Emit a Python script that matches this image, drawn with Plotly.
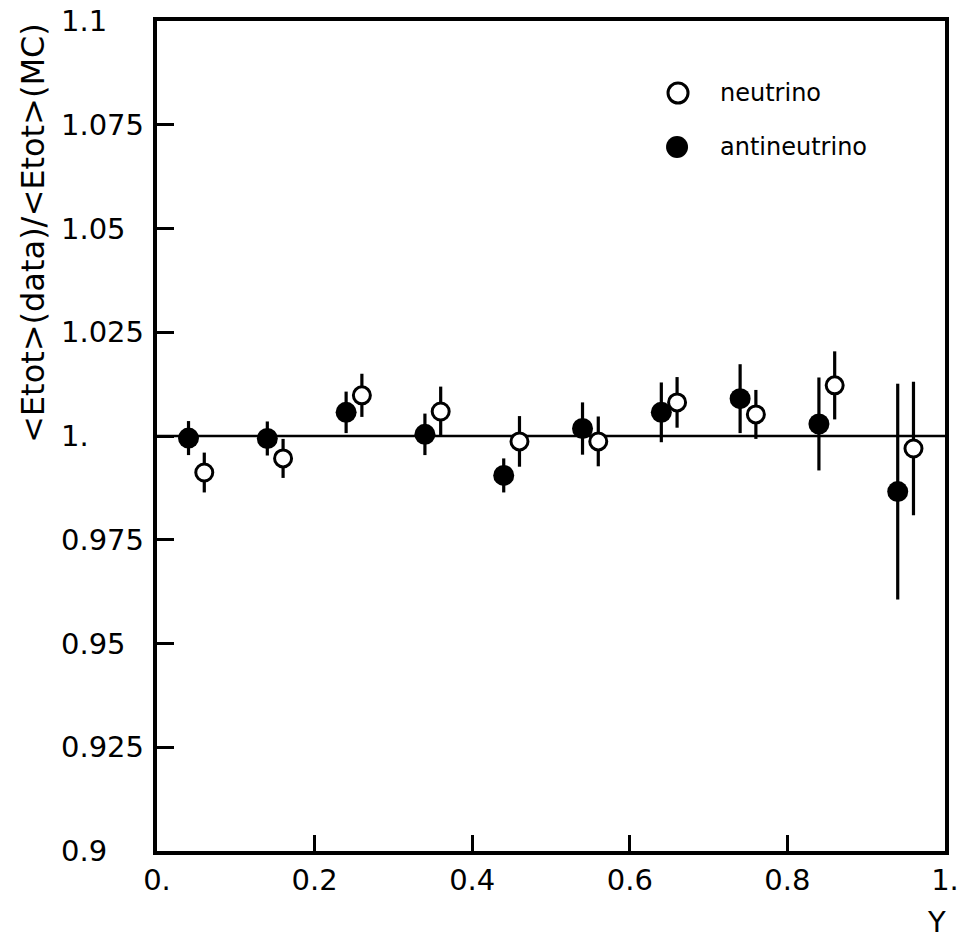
import plotly.graph_objects as go

# ---- data ----
anti_x = [0.04, 0.14, 0.24, 0.34, 0.44, 0.54, 0.64, 0.74, 0.84, 0.94]
anti_y = [0.9995, 0.9994, 1.0057, 1.0004, 0.9905, 1.0018, 1.0057, 1.0090, 1.0029, 0.9866]
anti_err = [0.0041, 0.0041, 0.0050, 0.0050, 0.0041, 0.0063, 0.0072, 0.0083, 0.0112, 0.0260]

neu_x = [0.06, 0.16, 0.26, 0.36, 0.46, 0.56, 0.66, 0.76, 0.86, 0.96]
neu_y = [0.9912, 0.9946, 1.0098, 1.0059, 0.9987, 0.9987, 1.0081, 1.0052, 1.0122, 0.9970]
neu_err = [0.0048, 0.0047, 0.0052, 0.0060, 0.0061, 0.0060, 0.0061, 0.0059, 0.0082, 0.0161]

x_tickvals = [0.0, 0.2, 0.4, 0.6, 0.8, 1.0]
x_ticktext = ["0.", "0.2", "0.4", "0.6", "0.8", "1."]
y_tickvals = [1.1, 1.075, 1.05, 1.025, 1.0, 0.975, 0.95, 0.925, 0.9]
y_ticktext = ["1.1", "1.075", "1.05", "1.025", "1.", "0.975", "0.95", "0.925", "0.9"]

reference_level = 1.0
legend_labels = ["neutrino", "antineutrino"]

FONT = "DejaVu Sans"
W, H = 971, 939
ML, MR, MT, MB = 157, 20, 21, 88
PW, PH = W - ML - MR, H - MT - MB


def px_x(p):
    return (p - ML) / PW


def px_y(p):
    return (H - MB - p) / PH


fig = go.Figure()

fig.add_trace(go.Scatter(
    x=anti_x, y=anti_y, mode="markers", name=legend_labels[1], showlegend=False,
    error_y=dict(type="data", array=anti_err, visible=True, color="black", thickness=3.2, width=0),
    marker=dict(symbol="circle", size=21, color="black", line=dict(width=0)),
))
fig.add_trace(go.Scatter(
    x=neu_x, y=neu_y, mode="markers", name=legend_labels[0], showlegend=False,
    error_y=dict(type="data", array=neu_err, visible=True, color="black", thickness=3.2, width=0),
    marker=dict(symbol="circle", size=17, color="white", line=dict(width=3, color="black")),
))

# reference line at 1
fig.add_shape(type="line", xref="paper", yref="y", x0=0, x1=1, y0=reference_level, y1=reference_level,
              line=dict(color="black", width=2.5), layer="below")

# y tick labels (left aligned, as in the reference)
for v, t in zip(y_tickvals, y_ticktext):
    fig.add_annotation(x=px_x(58), xref="paper", y=v, yref="y", text=t, showarrow=False,
                       xanchor="left", yanchor="middle", font=dict(family=FONT, size=29, color="black"))

# y axis title
fig.add_annotation(x=px_x(32), xref="paper", y=px_y(233), yref="paper",
                   text="&lt;Etot&gt;(data)/&lt;Etot&gt;(MC)", textangle=-90, showarrow=False,
                   xanchor="center", yanchor="middle", font=dict(family=FONT, size=32, color="black"))

# x axis title
fig.add_annotation(x=px_x(942), xref="paper", y=px_y(922), yref="paper", text="Y", showarrow=False,
                   xanchor="center", yanchor="middle", font=dict(family=FONT, size=29, color="black"))

# legend
fig.add_shape(type="circle", xref="paper", yref="paper", xsizemode="pixel", ysizemode="pixel",
              xanchor=px_x(682), yanchor=px_y(93), x0=-10, x1=10, y0=-10, y1=10,
              line=dict(color="black", width=3), fillcolor="white")
fig.add_shape(type="circle", xref="paper", yref="paper", xsizemode="pixel", ysizemode="pixel",
              xanchor=px_x(681), yanchor=px_y(147), x0=-11, x1=11, y0=-11, y1=11,
              line=dict(color="black", width=0), fillcolor="black")
fig.add_annotation(x=px_x(722), xref="paper", y=px_y(93), yref="paper", text=legend_labels[0],
                   showarrow=False, xanchor="left", yanchor="middle",
                   font=dict(family=FONT, size=24, color="black"))
fig.add_annotation(x=px_x(722), xref="paper", y=px_y(147), yref="paper", text=legend_labels[1],
                   showarrow=False, xanchor="left", yanchor="middle",
                   font=dict(family=FONT, size=24, color="black"))

fig.update_layout(
    width=W, height=H,
    margin=dict(l=ML, r=MR, t=MT, b=MB, pad=0),
    paper_bgcolor="white", plot_bgcolor="white",
    showlegend=False,
    font=dict(family=FONT, color="black"),
    xaxis=dict(range=[0, 1], tickvals=x_tickvals, ticktext=x_ticktext, ticks="inside", ticklen=16,
               tickwidth=2.5, tickcolor="black", showline=True, linecolor="black", linewidth=3.5,
               mirror=True, showgrid=False, zeroline=False, tickfont=dict(family=FONT, size=29),
               ticklabelstandoff=0),
    yaxis=dict(range=[0.9, 1.1], tickvals=y_tickvals, ticks="inside", ticklen=17,
               tickwidth=2.5, tickcolor="black", showline=True, linecolor="black", linewidth=3.5,
               mirror=True, showgrid=False, zeroline=False, showticklabels=False),
)

fig.write_html("out.html")
